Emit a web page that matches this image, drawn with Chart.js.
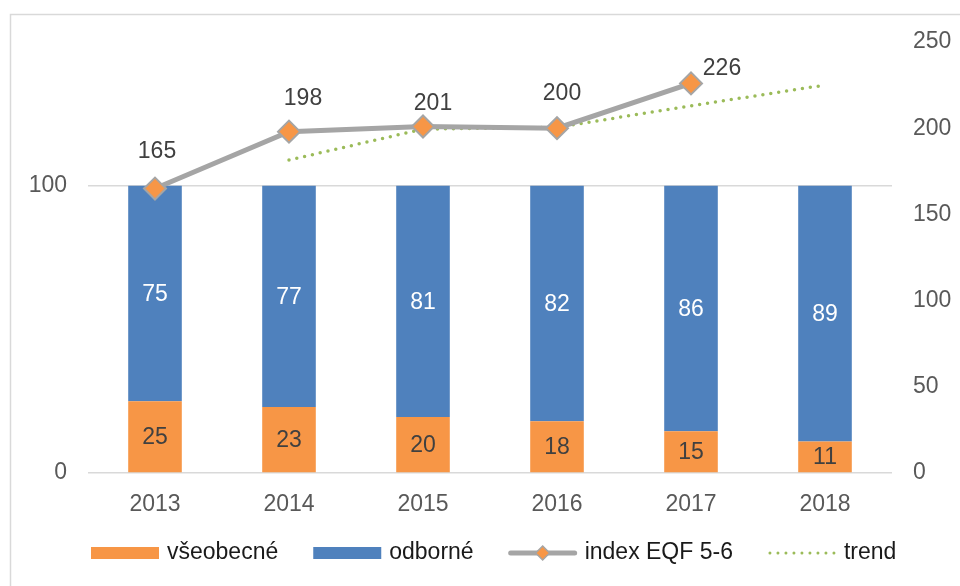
<!DOCTYPE html>
<html lang="cs">
<head>
    <meta charset="UTF-8">
    <title>EQF 5-6</title>
    <script src="https://cdn.jsdelivr.net/npm/chart.js"></script>
    <style>
        body {
            margin: 0;
            padding: 0;
            background: #fff;
            overflow: hidden;
        }
        #chartContainer {
            width: 960px;
            height: 586px;
        }
    </style>
</head>
<body>
    <div id="chartContainer">
        <canvas id="chart" width="960" height="586"></canvas>
    </div>

    <script>
        // data
        const years = ['2013', '2014', '2015', '2016', '2017', '2018'];
        const vseobecne = [25, 23, 19.5, 18, 14.5, 11];
        const odborne = [75, 77, 80.5, 82, 85.5, 89];
        const indexEqf = [165, 198, 201, 200, 226, null];
        const trend = [null, 181.5, 199.5, 200.5, 213, 225];
        const leftTicks = [0, 100];

        const FONT = "'Liberation Sans', Arial, sans-serif";
        const ORANGE = '#f79646';
        const BLUE = '#4f81bd';
        const GRAY = '#a5a5a5';
        const GREEN = '#9bbb59';

        // posun popisků u bodů čáry (dx, dy)
        const lineLabelShift = [[2, -37], [14, -33], [10, -23], [5, -35], [31, -15]];

        const labelsPlugin = {
            id: 'labels',
            beforeDraw(chart) {
                const ctx = chart.ctx;
                ctx.save();
                ctx.strokeStyle = '#d9d9d9';
                ctx.lineWidth = 1.5;
                ctx.strokeRect(10.5, 14.5, 1000, 1000);
                ctx.restore();
            },
            afterDatasetsDraw(chart) {
                const ctx = chart.ctx;
                ctx.save();
                ctx.font = '23px ' + FONT;
                ctx.textAlign = 'center';
                ctx.textBaseline = 'middle';
                // popisky sloupců
                [0, 1].forEach(di => {
                    const meta = chart.getDatasetMeta(di);
                    const ds = chart.data.datasets[di];
                    ctx.fillStyle = di === 0 ? '#404040' : '#ffffff';
                    meta.data.forEach((el, i) => {
                        ctx.fillText(Math.round(ds.data[i]), el.x, (el.y + el.base) / 2 + 1);
                    });
                });
                // popisky čáry
                const meta = chart.getDatasetMeta(2);
                ctx.fillStyle = '#404040';
                meta.data.forEach((el, i) => {
                    const v = chart.data.datasets[2].data[i];
                    if (v === null) return;
                    const s = lineLabelShift[i];
                    ctx.fillText(v, el.x + s[0], el.y + s[1]);
                });
                ctx.restore();
            },
            afterDraw(chart) {
                // legenda
                const ctx = chart.ctx;
                ctx.save();
                ctx.font = '23px ' + FONT;
                ctx.textBaseline = 'middle';
                const y = 553;
                let x = 91;
                const items = [
                    { text: 'všeobecné', kind: 'box', color: ORANGE },
                    { text: 'odborné', kind: 'box', color: BLUE },
                    { text: 'index EQF 5-6', kind: 'line' },
                    { text: 'trend', kind: 'dots' }
                ];
                items.forEach(it => {
                    if (it.kind === 'box') {
                        ctx.fillStyle = it.color;
                        ctx.fillRect(x, y - 6, 68, 12);
                    } else if (it.kind === 'line') {
                        ctx.strokeStyle = GRAY;
                        ctx.lineWidth = 5;
                        ctx.lineCap = 'round';
                        ctx.beginPath();
                        ctx.moveTo(x + 2, y);
                        ctx.lineTo(x + 66, y);
                        ctx.stroke();
                        ctx.fillStyle = ORANGE;
                        ctx.strokeStyle = GRAY;
                        ctx.lineWidth = 1.5;
                        ctx.beginPath();
                        ctx.moveTo(x + 34, y - 7);
                        ctx.lineTo(x + 41, y);
                        ctx.lineTo(x + 34, y + 7);
                        ctx.lineTo(x + 27, y);
                        ctx.closePath();
                        ctx.fill();
                        ctx.stroke();
                    } else {
                        ctx.strokeStyle = GREEN;
                        ctx.lineWidth = 3;
                        ctx.lineCap = 'round';
                        ctx.setLineDash([0, 8]);
                        ctx.beginPath();
                        ctx.moveTo(x + 2, y);
                        ctx.lineTo(x + 68, y);
                        ctx.stroke();
                        ctx.setLineDash([]);
                    }
                    ctx.fillStyle = '#1a1a1a';
                    ctx.fillText(it.text, x + 76, y);
                    x += 76 + ctx.measureText(it.text).width + 35;
                });
                ctx.restore();
            }
        };

        const ctx = document.getElementById('chart').getContext('2d');
        const chart = new Chart(ctx, {
            type: 'bar',
            data: {
                labels: years,
                datasets: [
                    {
                        label: 'všeobecné',
                        data: vseobecne,
                        backgroundColor: ORANGE,
                        yAxisID: 'y',
                        order: 2,
                        barPercentage: 0.4,
                        categoryPercentage: 1
                    },
                    {
                        label: 'odborné',
                        data: odborne,
                        backgroundColor: BLUE,
                        yAxisID: 'y',
                        order: 2,
                        barPercentage: 0.4,
                        categoryPercentage: 1
                    },
                    {
                        type: 'line',
                        label: 'index EQF 5-6',
                        data: indexEqf,
                        yAxisID: 'y1',
                        order: 0,
                        borderColor: GRAY,
                        borderWidth: 5,
                        pointStyle: 'rectRot',
                        pointRadius: 11,
                        pointHoverRadius: 11,
                        pointBackgroundColor: ORANGE,
                        pointBorderColor: GRAY,
                        pointBorderWidth: 2,
                        tension: 0
                    },
                    {
                        type: 'line',
                        label: 'trend',
                        data: trend,
                        yAxisID: 'y1',
                        order: 1,
                        borderColor: GREEN,
                        borderWidth: 3.5,
                        borderDash: [0, 8],
                        borderCapStyle: 'round',
                        pointRadius: 0,
                        tension: 0
                    }
                ]
            },
            options: {
                responsive: false,
                animation: false,
                layout: { padding: { top: 42, bottom: 0, left: 0, right: 0 } },
                plugins: {
                    legend: { display: false },
                    tooltip: { enabled: false }
                },
                scales: {
                    x: {
                        stacked: true,
                        offset: true,
                        grid: { display: false },
                        border: { display: false },
                        ticks: {
                            color: '#595959',
                            font: { family: FONT, size: 23 },
                            padding: 10
                        },
                        afterFit(scale) { scale.height = 113; }
                    },
                    y: {
                        stacked: true,
                        position: 'left',
                        min: 0,
                        max: 150,
                        afterBuildTicks(scale) {
                            scale.ticks = leftTicks.map(v => ({ value: v }));
                        },
                        grid: { color: '#d9d9d9', lineWidth: 1.5, drawTicks: false },
                        border: { display: false },
                        ticks: {
                            color: '#595959',
                            font: { family: FONT, size: 23 },
                            padding: 21
                        },
                        afterFit(scale) { scale.width = 88; }
                    },
                    y1: {
                        position: 'right',
                        min: 0,
                        max: 250,
                        grid: { display: false, drawTicks: false },
                        border: { display: false },
                        ticks: {
                            stepSize: 50,
                            color: '#595959',
                            font: { family: FONT, size: 23 },
                            padding: 21
                        },
                        afterFit(scale) { scale.width = 68; }
                    }
                }
            },
            plugins: [labelsPlugin]
        });
    </script>
</body>
</html>
